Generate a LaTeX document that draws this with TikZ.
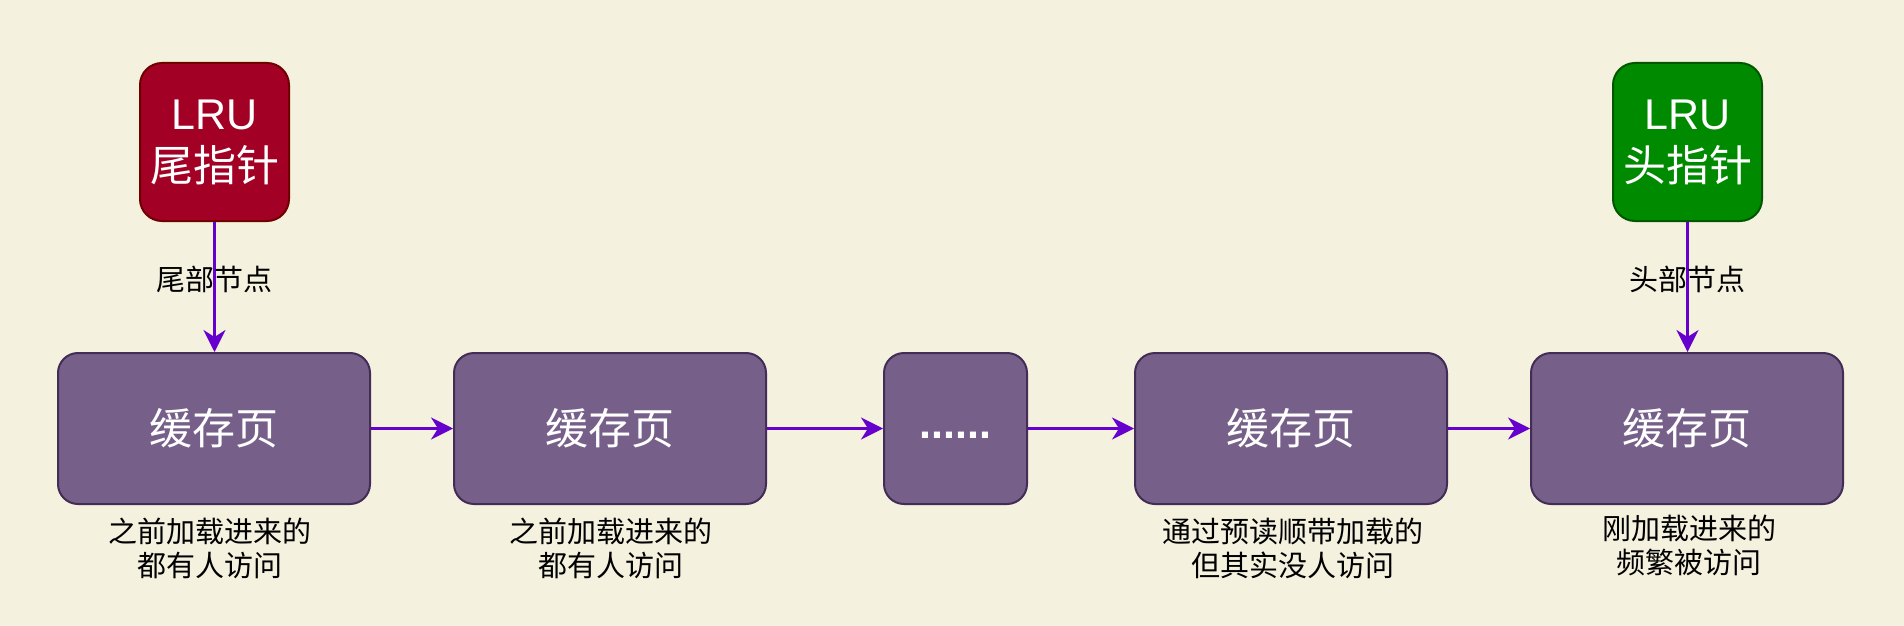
\documentclass[tikz,border=0pt]{standalone}
\usepackage{fontspec}
\setmainfont{Noto Sans CJK SC}
\newfontfamily\latinsans{Liberation Sans}
\usetikzlibrary{arrows.meta}
\definecolor{bg}{HTML}{F4F1DE}
\definecolor{redfill}{HTML}{A20025}
\definecolor{redline}{HTML}{6F0000}
\definecolor{greenfill}{HTML}{008A00}
\definecolor{greenline}{HTML}{005700}
\definecolor{purplefill}{HTML}{76608A}
\definecolor{purpleline}{HTML}{432D57}
\definecolor{arrowcol}{HTML}{6600CC}
\tikzset{
  pagebox/.style={draw=purpleline, fill=purplefill, line width=2pt, rounded corners=20pt,
    minimum width=312pt, minimum height=151pt, inner sep=0pt, text=white,
    font=\fontsize{43}{52}\selectfont},
  ptrbox/.style={line width=2pt, rounded corners=22pt, minimum width=149pt, minimum height=158pt,
    inner sep=0pt, text=white, align=center, font=\fontsize{43}{52}\selectfont},
  conn/.style={draw=arrowcol, line width=2.2pt, -{Stealth[length=22pt,width=22pt,inset=7pt]}},
  edgelabel/.style={font=\fontsize{29}{34}\selectfont, text=black, inner sep=0pt},
  notelabel/.style={font=\fontsize{29}{34}\selectfont, text=black, align=center, inner sep=0pt}
}
\begin{document}
\begin{tikzpicture}[x=1pt,y=-1pt]
\fill[bg] (0,0) rectangle (1904,626);
\useasboundingbox (0,0) rectangle (1904,626);

\node[ptrbox, draw=redline, fill=redfill] (tail) at (214.5,142) {{\latinsans LRU}\\尾指针};
\node[ptrbox, draw=greenline, fill=greenfill] (head) at (1687.5,142) {{\latinsans LRU}\\头指针};

\node[pagebox] (p1) at (214,428.5) {缓存页};
\node[pagebox] (p2) at (610,428.5) {缓存页};
\node[pagebox, minimum width=143pt] (p3) at (955.5,428.5) {\latinsans\bfseries\vphantom{Ag}......};
\node[pagebox] (p4) at (1291,428.5) {缓存页};
\node[pagebox] (p5) at (1687,428.5) {缓存页};

\draw[conn] (tail) -- node[edgelabel, pos=0.44] {尾部节点} (tail.south |- p1.north);
\draw[conn] (head) -- node[edgelabel, pos=0.44] {头部节点} (head.south |- p5.north);
\draw[conn] (p1) -- (p2);
\draw[conn] (p2) -- (p3);
\draw[conn] (p3) -- (p4);
\draw[conn] (p4) -- (p5);

\node[notelabel] (n1) at (210,548) {之前加载进来的\\都有人访问};
\node[notelabel] (n2) at (611,548) {之前加载进来的\\都有人访问};
\node[notelabel] (n4) at (1293,548) {通过预读顺带加载的\\但其实没人访问};
\node[notelabel] (n5) at (1689,545) {刚加载进来的\\频繁被访问};
\end{tikzpicture}
\end{document}
